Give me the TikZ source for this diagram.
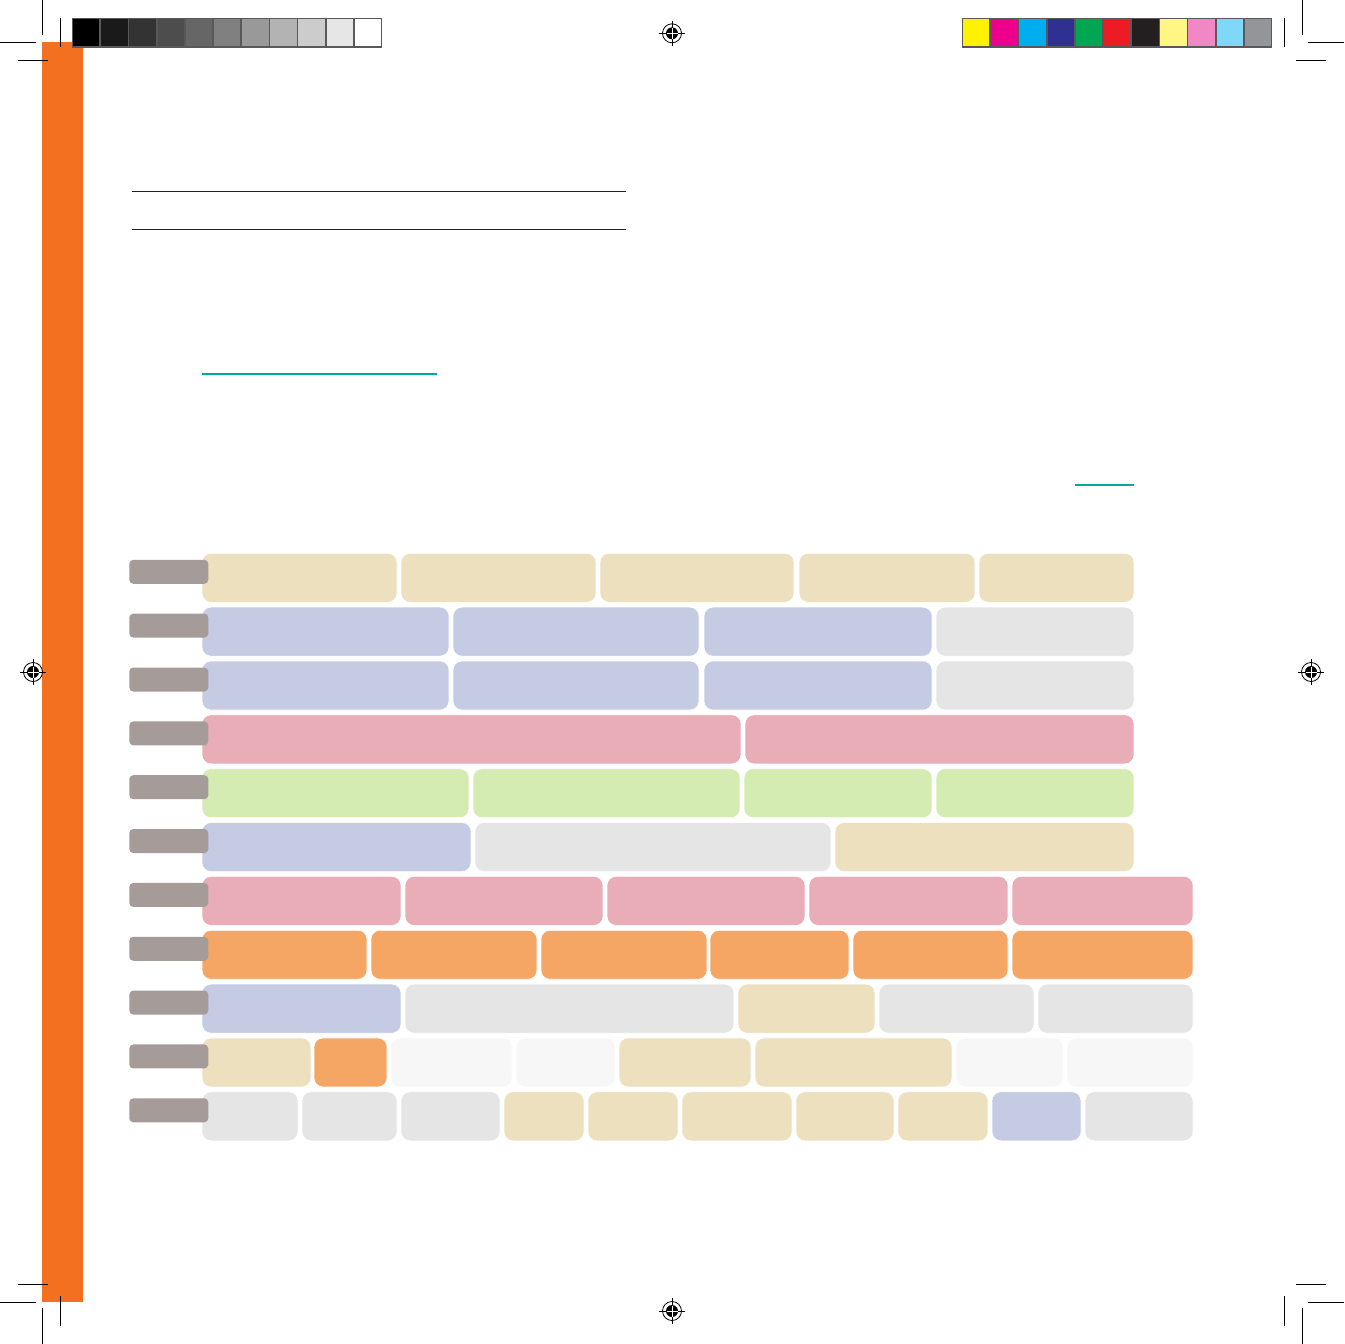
\documentclass[tikz,border=0pt]{standalone}
\usepackage{xcolor}
\usetikzlibrary{calc}
\definecolor{cOrange}{HTML}{F37021}
\definecolor{cTan}{HTML}{EDE0BF}
\definecolor{cBlue}{HTML}{C4CBE3}
\definecolor{cGray}{HTML}{E5E5E5}
\definecolor{cPink}{HTML}{E8ADB7}
\definecolor{cGreen}{HTML}{D4ECB1}
\definecolor{cOrg}{HTML}{F6A664}
\definecolor{cPale}{HTML}{F7F7F7}
\definecolor{cTab}{HTML}{A59C9A}
\definecolor{cRule}{HTML}{231F20}
\definecolor{cTeal}{HTML}{00A99D}
\definecolor{cFrame}{HTML}{58595B}
\definecolor{gA}{HTML}{000000}\definecolor{gB}{HTML}{1A1A1A}\definecolor{gC}{HTML}{333333}
\definecolor{gD}{HTML}{4D4D4D}\definecolor{gE}{HTML}{666666}\definecolor{gF}{HTML}{808080}
\definecolor{gG}{HTML}{999999}\definecolor{gH}{HTML}{B3B3B3}\definecolor{gI}{HTML}{CCCCCC}
\definecolor{gJ}{HTML}{E6E6E6}\definecolor{gK}{HTML}{FFFFFF}
\definecolor{kA}{HTML}{FFF200}\definecolor{kB}{HTML}{EC008C}\definecolor{kC}{HTML}{00AEEF}
\definecolor{kD}{HTML}{2E3192}\definecolor{kE}{HTML}{00A651}\definecolor{kF}{HTML}{ED1C24}
\definecolor{kG}{HTML}{231F20}\definecolor{kH}{HTML}{FFF685}\definecolor{kI}{HTML}{F287C6}
\definecolor{kJ}{HTML}{7FD8F7}\definecolor{kK}{HTML}{939598}
\begin{document}
\begin{tikzpicture}[x=1pt,y=-1pt,
  seg/.style={rectangle, rounded corners=9pt, inner sep=0pt, outer sep=0pt, minimum height=49pt, draw=white, line width=0.6pt},
  tabbox/.style={rectangle, rounded corners=4pt, inner sep=0pt, outer sep=0pt, minimum width=79pt, minimum height=24pt, fill=cTab},
  crop/.style={line width=1pt, draw=black},
  rulel/.style={line width=1.1pt, draw=cRule},
  teal/.style={line width=1.3pt, draw=cTeal}]
\useasboundingbox (0,0) rectangle (1344,1344);
\fill[white] (0,0) rectangle (1344,1344);
% orange side bar
\fill[cOrange] (42,42) rectangle (83,1302);
% crop marks
\draw[crop] (42,0) -- (42,35) (0,42) -- (36,42) (60,18) -- (60,47) (18,60) -- (48,60);
\draw[crop] (1302,0) -- (1302,35) (1308,42) -- (1344,42) (1284.7,18) -- (1284.7,47) (1296,60) -- (1326,60);
\draw[crop] (18,1284) -- (48,1284) (0,1302) -- (36,1302) (60,1296) -- (60,1326) (42,1308) -- (42,1344);
\draw[crop] (1296,1284) -- (1326,1284) (1308,1302) -- (1344,1302) (1284,1296) -- (1284,1326) (1302,1308) -- (1302,1344);
% colour bars
\fill[cFrame] (72,18) rectangle (382,47.5);
\foreach \c [count=\i from 0] in {gA,gB,gC,gD,gE,gF,gG,gH,gI,gJ,gK}
  \fill[\c] ({72+\i*28.18+1}, 19.3) rectangle ({72+(\i+1)*28.18-0.7}, 46.2);
\fill[cFrame] (962,18) rectangle (1272,47.5);
\foreach \c [count=\i from 0] in {kA,kB,kC,kD,kE,kF,kG,kH,kI,kJ,kK}
  \fill[\c] ({962+\i*28.18+1}, 19.3) rectangle ({962+(\i+1)*28.18-0.7}, 46.2);
% registration marks
\foreach \n/\px/\py in {top/672/33.3, left/33/672, right/1311/672, bottom/672/1311}{
  \coordinate (reg\n) at (\px,\py);
  \draw[line width=0.8pt] (reg\n) circle[radius=9.5pt];
  \fill[black] (reg\n) circle[radius=6pt];
  \draw[line width=0.8pt] ($(reg\n)+(-12.7,0)$) -- ($(reg\n)+(12.7,0)$);
  \draw[line width=0.8pt] ($(reg\n)+(0,-12.7)$) -- ($(reg\n)+(0,12.7)$);
  \draw[white, line width=0.5pt] ($(reg\n)+(-5.5,0)$) -- ($(reg\n)+(5.5,0)$);
  \draw[white, line width=0.5pt] ($(reg\n)+(0,-5.5)$) -- ($(reg\n)+(0,5.5)$);
}
% rules
\coordinate (ruleAl) at (132,191.3); \coordinate (ruleAr) at (626,191.3);
\coordinate (ruleBl) at (132,229.3); \coordinate (ruleBr) at (626,229.3);
\draw[rulel] (ruleAl) -- (ruleAr);
\draw[rulel] (ruleBl) -- (ruleBr);
\coordinate (tealAl) at (202,374); \coordinate (tealAr) at (437,374);
\coordinate (tealBl) at (1075,485); \coordinate (tealBr) at (1134,485);
\draw[teal] (tealAl) -- (tealAr);
\draw[teal] (tealBl) -- (tealBr);
% rows
\foreach \row/\segs in {
 1/{202/397/cTan, 401/596/cTan, 600/794/cTan, 799/975/cTan, 979/1134/cTan},
 2/{202/449/cBlue, 453/699/cBlue, 704/932/cBlue, 936/1134/cGray},
 3/{202/449/cBlue, 453/699/cBlue, 704/932/cBlue, 936/1134/cGray},
 4/{202/741/cPink, 745/1134/cPink},
 5/{202/469/cGreen, 473/740/cGreen, 744/932/cGreen, 936/1134/cGreen},
 6/{202/471/cBlue, 475/831/cGray, 835/1134/cTan},
 7/{202/401/cPink, 405/603/cPink, 607/805/cPink, 809/1008/cPink, 1012/1193/cPink},
 8/{202/367/cOrg, 371/537/cOrg, 541/707/cOrg, 710/849/cOrg, 853/1008/cOrg, 1012/1193/cOrg},
 9/{202/401/cBlue, 405/734/cGray, 738/875/cTan, 879/1034/cGray, 1038/1193/cGray},
 10/{202/311/cTan, 314/387/cOrg, 391/512/cPale, 516/615/cPale, 619/751/cTan, 755/952/cTan, 956/1063/cPale, 1067/1193/cPale},
 11/{202/298/cGray, 302/397/cGray, 401/500/cGray, 504/584/cTan, 588/678/cTan, 682/792/cTan, 796/894/cTan, 898/988/cTan, 992/1081/cBlue, 1085/1193/cGray}}{
  \pgfmathsetmacro\t{553.3+(\row-1)*53.85}
  \foreach \l/\r/\c [count=\i] in \segs {
    \pgfmathsetmacro\w{\r-\l}
    \node[seg, fill=\c, minimum width=\w pt] (r\row-\i) at ({(\l+\r)/2}, {\t+24.5}) {};
  }
  \node[tabbox] (tab\row) at (168.8, {\t+18.5}) {};
}
\end{tikzpicture}
\end{document}
